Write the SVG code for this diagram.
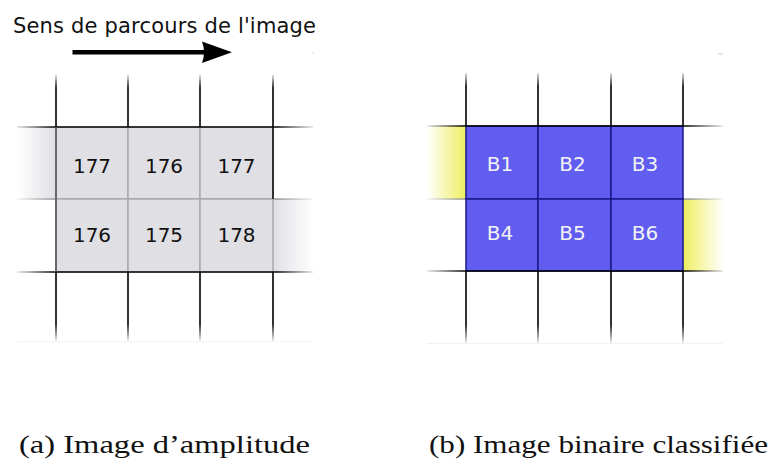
<svg xmlns="http://www.w3.org/2000/svg" width="772" height="461" viewBox="0 0 772 461">
<defs>
<linearGradient id="vfade" x1="0" y1="0" x2="0" y2="1">
<stop offset="0" stop-color="#000" stop-opacity="0.15"/>
<stop offset="0.25" stop-color="#000" stop-opacity="1"/>
<stop offset="1" stop-color="#000" stop-opacity="1"/>
</linearGradient>
<linearGradient id="vfadeB" x1="0" y1="0" x2="0" y2="1">
<stop offset="0" stop-color="#000" stop-opacity="1"/>
<stop offset="0.75" stop-color="#000" stop-opacity="1"/>
<stop offset="1" stop-color="#000" stop-opacity="0.1"/>
</linearGradient>
<linearGradient id="hfade" x1="0" y1="0" x2="1" y2="0">
<stop offset="0" stop-color="#000" stop-opacity="0.1"/>
<stop offset="0.12" stop-color="#000" stop-opacity="0.9"/>
<stop offset="0.88" stop-color="#000" stop-opacity="0.9"/>
<stop offset="1" stop-color="#000" stop-opacity="0.1"/>
</linearGradient>
<linearGradient id="hfadeG" x1="0" y1="0" x2="1" y2="0">
<stop offset="0" stop-color="#999" stop-opacity="0.1"/>
<stop offset="0.12" stop-color="#999" stop-opacity="1"/>
<stop offset="0.88" stop-color="#999" stop-opacity="1"/>
<stop offset="1" stop-color="#999" stop-opacity="0.1"/>
</linearGradient>
<linearGradient id="grayL" x1="0" y1="0" x2="1" y2="0">
<stop offset="0" stop-color="#e0dfe4" stop-opacity="0"/>
<stop offset="1" stop-color="#e0dfe4" stop-opacity="1"/>
</linearGradient>
<linearGradient id="grayR" x1="0" y1="0" x2="1" y2="0">
<stop offset="0" stop-color="#e0dfe4" stop-opacity="1"/>
<stop offset="1" stop-color="#e0dfe4" stop-opacity="0"/>
</linearGradient>
<linearGradient id="yelL" x1="0" y1="0" x2="1" y2="0">
<stop offset="0" stop-color="#eeee60" stop-opacity="0"/>
<stop offset="1" stop-color="#eeee60" stop-opacity="1"/>
</linearGradient>
<linearGradient id="yelR" x1="0" y1="0" x2="1" y2="0">
<stop offset="0" stop-color="#eeee60" stop-opacity="1"/>
<stop offset="1" stop-color="#eeee60" stop-opacity="0"/>
</linearGradient>
<style>
.num{font-family:"DejaVu Sans",sans-serif;font-size:20px;text-anchor:middle;fill:#111}
.lbl{font-family:"DejaVu Sans",sans-serif;font-size:20px;text-anchor:middle;fill:#f2f2f2}
.cap{font-family:"Liberation Serif",serif;font-size:25px;fill:#111}
.gcell{fill:#e0dfe4;stroke:#aaaaaa;stroke-width:1.5}
.bcell{fill:#615df0;stroke:#1a1a8a;stroke-width:1.5}
.vt{fill:url(#vfade)}
.vb{fill:url(#vfadeB)}
.hl{fill:url(#hfade)}
.hg{fill:url(#hfadeG)}
</style>
</defs>
<rect width="772" height="461" fill="#fff"/>

<g id="title">
<text x="13" y="33" font-family="DejaVu Sans, sans-serif" font-size="21" fill="#111" textLength="303">Sens de parcours de l'image</text>
</g>
<g id="connectors">
<line x1="72.5" y1="52.2" x2="206" y2="52.2" stroke="#000" stroke-width="4.5"/>
<path d="M202,41.5 L232,52.2 L202,63 Q206,52.2 202,41.5 Z" fill="#000"/>
</g>

<g id="panel-a">
<rect x="17" y="127" width="39" height="72" fill="url(#grayL)"/>
<rect x="273" y="199" width="40" height="73" fill="url(#grayR)"/>
<rect class="hg" x="17" y="198.3" width="296" height="1.5"/>
<g id="a-cells">
<rect class="gcell" x="56" y="127" width="72" height="72"/>
<rect class="gcell" x="128" y="127" width="72" height="72"/>
<rect class="gcell" x="200" y="127" width="73" height="72"/>
<rect class="gcell" x="56" y="199" width="72" height="73"/>
<rect class="gcell" x="128" y="199" width="72" height="73"/>
<rect class="gcell" x="200" y="199" width="73" height="73"/>
</g>
<rect class="hl" x="17" y="126.2" width="296" height="1.6"/>
<rect class="hl" x="17" y="271.2" width="296" height="1.6"/>
<rect class="vt" x="55.2" y="75" width="1.6" height="52"/>
<rect class="vt" x="127.2" y="75" width="1.6" height="52"/>
<rect class="vt" x="199.2" y="75" width="1.6" height="52"/>
<rect class="vt" x="272.2" y="75" width="1.6" height="52"/>
<rect class="vb" x="55.2" y="272" width="1.6" height="69"/>
<rect class="vb" x="127.2" y="272" width="1.6" height="69"/>
<rect class="vb" x="199.2" y="272" width="1.6" height="69"/>
<rect class="vb" x="272.2" y="272" width="1.6" height="69"/>
<rect x="55.2" y="127" width="1.6" height="145" fill="#555"/>
<rect x="272.2" y="127" width="1.6" height="72" fill="#111"/>
<rect x="17" y="341" width="296" height="1" fill="#f2f2f2"/>
<rect x="312" y="52.5" width="2" height="1" fill="#ddd"/>
<g id="a-text">
<text class="num" x="92" y="172.5">177</text>
<text class="num" x="164" y="172.5">176</text>
<text class="num" x="236.5" y="172.5">177</text>
<text class="num" x="92" y="242">176</text>
<text class="num" x="164" y="242">175</text>
<text class="num" x="236.5" y="242">178</text>
</g>
</g>

<g id="panel-b">
<rect x="427" y="126" width="39" height="73" fill="url(#yelL)"/>
<rect x="683" y="199" width="40" height="72" fill="url(#yelR)"/>
<rect class="hg" x="427" y="198.3" width="296" height="1.5"/>
<g id="b-cells">
<rect class="bcell" x="466" y="126" width="72" height="73"/>
<rect class="bcell" x="538" y="126" width="73" height="73"/>
<rect class="bcell" x="611" y="126" width="72" height="73"/>
<rect class="bcell" x="466" y="199" width="72" height="72"/>
<rect class="bcell" x="538" y="199" width="73" height="72"/>
<rect class="bcell" x="611" y="199" width="72" height="72"/>
</g>
<rect class="hl" x="427" y="125.2" width="296" height="1.6"/>
<rect class="hl" x="427" y="270.2" width="296" height="1.6"/>
<rect class="vt" x="465.2" y="73" width="1.6" height="53"/>
<rect class="vt" x="537.2" y="73" width="1.6" height="53"/>
<rect class="vt" x="610.2" y="73" width="1.6" height="53"/>
<rect class="vt" x="682.2" y="73" width="1.6" height="53"/>
<rect class="vb" x="465.2" y="271" width="1.6" height="72"/>
<rect class="vb" x="537.2" y="271" width="1.6" height="72"/>
<rect class="vb" x="610.2" y="271" width="1.6" height="72"/>
<rect class="vb" x="682.2" y="271" width="1.6" height="72"/>
<rect x="427" y="343" width="296" height="1" fill="#f2f2f2"/>
<rect x="718" y="53.5" width="5" height="1" fill="#ccc"/>
<g id="b-text">
<text class="lbl" x="500" y="171">B1</text>
<text class="lbl" x="572.5" y="171">B2</text>
<text class="lbl" x="645" y="171">B3</text>
<text class="lbl" x="500" y="240">B4</text>
<text class="lbl" x="572.5" y="240">B5</text>
<text class="lbl" x="645" y="240">B6</text>
</g>
</g>

<g id="captions">
<text class="cap" x="19" y="453" textLength="291" lengthAdjust="spacingAndGlyphs">(a) Image d’amplitude</text>
<text class="cap" x="429" y="453" textLength="339" lengthAdjust="spacingAndGlyphs">(b) Image binaire classifiée</text>
</g>
</svg>
